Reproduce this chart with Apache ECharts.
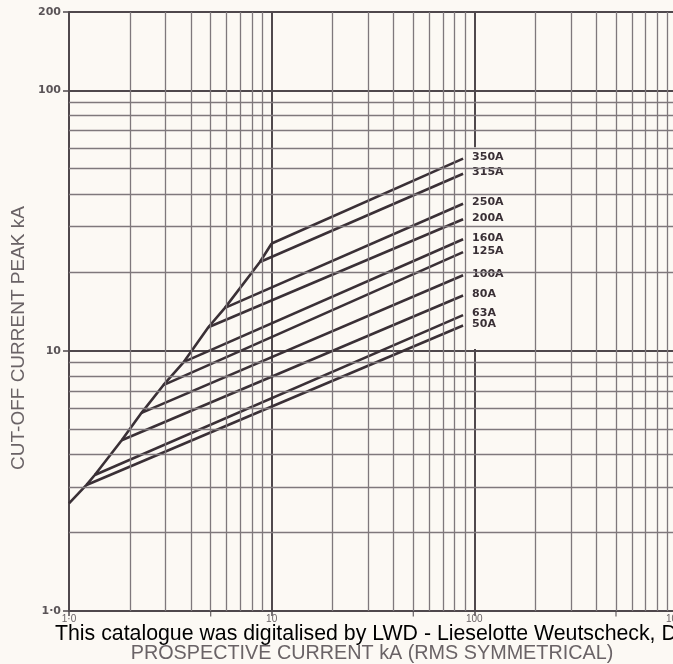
<!DOCTYPE html>
<html>
<head>
<meta charset="utf-8">
<script src="https://cdn.jsdelivr.net/npm/echarts@6/dist/echarts.min.js"></script>
<style>
html,body{margin:0;padding:0;background:#fcf9f4;}
#chart{width:673px;height:664px;}
</style>
</head>
<body>
<div id="chart"></div>
<script>
// ---- data ----
const xMinor = [2,3,4,5,6,7,8,9,20,30,40,50,60,70,80,90,200,300,400,500,600,700,800,900];
const yMinor = [2,3,4,5,6,7,8,9,20,30,40,50,60,70,80,90];
const xHalfTicks = [5,50,500];
const fuseNames = ['350A','315A','250A','200A','160A','125A','100A','80A','63A','50A'];
const kneeX = [10, 8.75, 5.88, 4.87, 3.69, 2.92, 2.28, 1.82, 1.34, 1.22];
const kneeY = [25.8, 21.9, 14.6, 12.3, 9.06, 7.37, 5.77, 4.53, 3.33, 3.05];
const endX = 88;
const endY = [54.7, 47.8, 36.7, 32.0, 26.8, 23.9, 19.5, 16.3, 13.7, 12.5];
const thresholdX = [1, 1.22, 1.34, 1.82, 2.28, 2.92, 3.69, 4.87, 5.88, 8.75, 10];
const thresholdY = [2.59, 3.05, 3.33, 4.53, 5.77, 7.37, 9.06, 12.3, 14.6, 21.9, 25.8];
const labelBox = [[89, 10.15], [158, 60.5]];

const ink = '#3a3036';
const majorGrid = '#4f484c';
const minorGrid = '#7f787c';

const chart = echarts.init(document.getElementById('chart'), null, {renderer:'canvas'});

const series = [];
// minor grid lines
series.push({
  type:'line', data:[], silent:true, z:1,
  markLine:{
    silent:true, symbol:['none','none'], animation:false,
    label:{show:false},
    lineStyle:{color:minorGrid, width:1.3, type:'solid'},
    emphasis:{disabled:true},
    data: xMinor.map(v=>({xAxis:v})).concat(yMinor.map(v=>({yAxis:v})))
  }
});
// label box
series.push({
  type:'line', data:[], silent:true, z:2,
  markArea:{
    silent:true, animation:false,
    itemStyle:{color:'#fcf9f4'},
    data:[[{xAxis:labelBox[0][0], yAxis:labelBox[0][1]},{xAxis:labelBox[1][0], yAxis:labelBox[1][1]}]]
  }
});
// threshold curve
series.push({
  type:'line', z:3, silent:true, symbol:'none', clip:false,
  lineStyle:{color:ink, width:2.6},
  data: thresholdX.map((x,i)=>[x, thresholdY[i]])
});
// fuse lines
fuseNames.forEach((n,i)=>{
  series.push({
    type:'line', name:n, z:4, silent:true, symbol:'none', clip:false,
    lineStyle:{color:ink, width:2.6},
    data:[[kneeX[i], kneeY[i]],[endX, endY[i]]],
    endLabel:{show:true, formatter:n, distance:9, offset:[0,-1.5],
      fontSize:11, fontWeight:'bold', fontFamily:'DejaVu Sans', color:ink}
  });
});
// small half-decade ticks on x axis
series.push({
  type:'scatter', z:5, silent:true, clip:false,
  symbol:'rect', symbolSize:[1.3,5], symbolOffset:[0,3],
  itemStyle:{color:majorGrid},
  data: xHalfTicks.map(v=>[v,1])
});

chart.setOption({
  animation:false,
  backgroundColor:'#fcf9f4',
  grid:{left:69, top:12, width:608, height:599, containLabel:false, outerBoundsMode:'none'},
  xAxis:{
    type:'log', logBase:10, min:1, max:1000,
    axisLine:{show:true, lineStyle:{color:majorGrid, width:2}},
    axisTick:{show:true, length:5, lineStyle:{color:majorGrid, width:1.5}},
    axisLabel:{show:true, margin:3, fontSize:10, color:'#6a6366', fontFamily:'Liberation Sans',
      formatter:v=> (Math.abs(v-1)<1e-9 ? '1·0' : String(Math.round(v)))},
    splitLine:{show:true, lineStyle:{color:majorGrid, width:2}}
  },
  yAxis:{
    type:'log', logBase:10, min:1, max:200,
    axisLine:{show:true, lineStyle:{color:majorGrid, width:2}},
    axisTick:{show:true, length:6, lineStyle:{color:majorGrid, width:1.5}},
    axisLabel:{show:true, margin:8, fontSize:11, fontWeight:'bold', color:'#5a5457', fontFamily:'DejaVu Sans',
      showMaxLabel:true, showMinLabel:true,
      formatter:v=> (Math.abs(v-1)<1e-9 ? '1·0' : String(Math.round(v)))},
    splitLine:{show:true, lineStyle:{color:majorGrid, width:2}}
  },
  series: series,
  graphic:[
    {type:'text', z:100, rotation:Math.PI/2, x:9, y:338,
      style:{text:'CUT-OFF CURRENT PEAK kA', fill:'#6a6366', font:'19px "Liberation Sans"', align:'center', verticalAlign:'top'}},
    {type:'text', z:100, x:372, y:654,
      style:{text:'PROSPECTIVE CURRENT kA (RMS SYMMETRICAL)', fill:'#6a6366', font:'19.8px "Liberation Sans"', align:'center', verticalAlign:'middle'}},
    {type:'text', z:101, x:55, y:634,
      style:{text:'This catalogue was digitalised by LWD - Lieselotte Weutscheck, Deutschland', fill:'#000000', font:'21.3px "Liberation Sans"', align:'left', verticalAlign:'middle'}}
  ]
});
</script>
</body>
</html>
